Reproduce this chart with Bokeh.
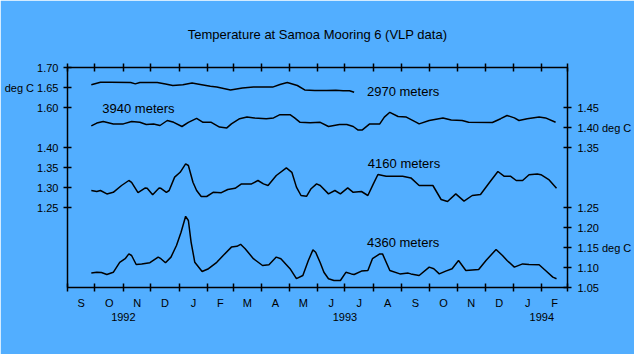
import numpy as np
from bokeh.plotting import figure
from bokeh.models import ColumnDataSource, LinearAxis, FixedTicker, Range1d, Label
from bokeh.embed import file_html
from bokeh.resources import INLINE

# ---------------- data ----------------
dates_2970 = ["1992-09-27", "1992-10-07", "1992-10-18", "1992-11-09", "1992-11-14", "1992-11-19",
              "1992-12-08", "1992-12-17", "1992-12-25", "1993-01-05", "1993-01-15", "1993-01-24",
              "1993-02-04", "1993-02-11", "1993-02-26", "1993-03-11", "1993-03-23", "1993-04-13",
              "1993-04-21", "1993-04-29", "1993-05-10", "1993-05-18", "1993-05-29", "1993-06-11",
              "1993-06-21", "1993-06-29", "1993-07-06", "1993-07-11"]
temp_2970 = [1.657, 1.663, 1.663, 1.6625, 1.659, 1.6625, 1.6625, 1.659, 1.655, 1.657, 1.661, 1.6575,
             1.653, 1.651, 1.644, 1.649, 1.651, 1.651, 1.6575, 1.6625, 1.655, 1.644, 1.6425, 1.6425,
             1.643, 1.642, 1.642, 1.638]

dates_3940 = ["1992-09-27", "1992-10-03", "1992-10-10", "1992-10-21", "1992-11-01", "1992-11-10",
              "1992-11-19", "1992-11-26", "1992-12-04", "1992-12-11", "1992-12-19", "1992-12-26",
              "1993-01-04", "1993-01-11", "1993-01-20", "1993-01-27", "1993-02-05", "1993-02-14",
              "1993-02-22", "1993-02-27", "1993-03-08", "1993-03-16", "1993-03-24", "1993-04-06",
              "1993-04-14", "1993-04-21", "1993-05-02", "1993-05-07", "1993-05-13", "1993-05-24",
              "1993-06-04", "1993-06-13", "1993-06-25", "1993-07-03", "1993-07-10", "1993-07-15",
              "1993-07-20", "1993-07-28", "1993-08-08", "1993-08-13", "1993-08-19", "1993-08-28",
              "1993-09-06", "1993-09-17", "1993-09-20", "1993-10-01", "1993-10-16", "1993-10-25",
              "1993-11-06", "1993-11-13", "1993-12-09", "1993-12-18", "1993-12-25", "1994-01-02",
              "1994-01-07", "1994-01-16", "1994-01-29", "1994-02-05", "1994-02-16"]
temp_3940 = [1.404, 1.411, 1.415, 1.409, 1.409, 1.415, 1.413, 1.4075, 1.409, 1.405, 1.4175, 1.413,
             1.4025, 1.413, 1.423, 1.413, 1.413, 1.401, 1.399, 1.409, 1.422, 1.426, 1.424, 1.422,
             1.424, 1.432, 1.432, 1.424, 1.413, 1.412, 1.413, 1.4025, 1.4075, 1.4075, 1.4025, 1.394,
             1.394, 1.409, 1.409, 1.426, 1.438, 1.4275, 1.426, 1.413, 1.409, 1.4175, 1.424, 1.419,
             1.4175, 1.413, 1.4125, 1.422, 1.43, 1.424, 1.4175, 1.422, 1.426, 1.424, 1.413]

dates_4160 = ["1992-09-27", "1992-10-03", "1992-10-07", "1992-10-14", "1992-10-21", "1992-10-30",
              "1992-11-07", "1992-11-10", "1992-11-17", "1992-11-25", "1992-11-27", "1992-12-03",
              "1992-12-10", "1992-12-12", "1992-12-18", "1992-12-21", "1992-12-27", "1993-01-02",
              "1993-01-08", "1993-01-11", "1993-01-16", "1993-01-20", "1993-01-25", "1993-01-31",
              "1993-02-07", "1993-02-16", "1993-02-23", "1993-03-03", "1993-03-10", "1993-03-21",
              "1993-03-28", "1993-04-03", "1993-04-08", "1993-04-17", "1993-04-28", "1993-05-04",
              "1993-05-09", "1993-05-14", "1993-05-20", "1993-05-25", "1993-05-31", "1993-06-04",
              "1993-06-13", "1993-06-20", "1993-06-26", "1993-07-04", "1993-07-10", "1993-07-19",
              "1993-07-26", "1993-08-01", "1993-08-06", "1993-08-15", "1993-09-02", "1993-09-11",
              "1993-09-20", "1993-10-05", "1993-10-14", "1993-10-21", "1993-10-30", "1993-11-08",
              "1993-11-17", "1993-11-26", "1993-12-06", "1993-12-15", "1993-12-22", "1993-12-29",
              "1994-01-04", "1994-01-11", "1994-01-18", "1994-01-27", "1994-01-31", "1994-02-09",
              "1994-02-17"]
temp_4160 = [1.2925, 1.29, 1.2925, 1.284, 1.288, 1.305, 1.3175, 1.313, 1.287, 1.299, 1.298, 1.282,
             1.299, 1.298, 1.288, 1.2925, 1.326, 1.338, 1.359, 1.355, 1.313, 1.2925, 1.2775, 1.2775,
             1.288, 1.287, 1.295, 1.298, 1.309, 1.309, 1.3175, 1.309, 1.305, 1.33, 1.349, 1.338,
             1.301, 1.28, 1.278, 1.297, 1.309, 1.305, 1.284, 1.2925, 1.284, 1.299, 1.288, 1.29,
             1.28, 1.309, 1.3325, 1.328, 1.328, 1.324, 1.305, 1.305, 1.27, 1.265, 1.284, 1.266,
             1.28, 1.2825, 1.313, 1.34, 1.328, 1.328, 1.3175, 1.3175, 1.332, 1.334, 1.332, 1.319,
             1.298]

dates_4360 = ["1992-09-27", "1992-10-03", "1992-10-08", "1992-10-14", "1992-10-21", "1992-10-28",
              "1992-11-03", "1992-11-07", "1992-11-10", "1992-11-15", "1992-11-21", "1992-11-30",
              "1992-12-09", "1992-12-12", "1992-12-17", "1992-12-23", "1992-12-29", "1993-01-03",
              "1993-01-08", "1993-01-11", "1993-01-14", "1993-01-18", "1993-01-26", "1993-02-02",
              "1993-02-11", "1993-02-18", "1993-02-27", "1993-03-05", "1993-03-09", "1993-03-14",
              "1993-03-23", "1993-04-02", "1993-04-09", "1993-04-17", "1993-04-22", "1993-05-02",
              "1993-05-09", "1993-05-16", "1993-05-22", "1993-05-27", "1993-05-30", "1993-06-04",
              "1993-06-08", "1993-06-13", "1993-06-19", "1993-06-26", "1993-07-02", "1993-07-08",
              "1993-07-11", "1993-07-19", "1993-07-26", "1993-07-31", "1993-08-08", "1993-08-11",
              "1993-08-19", "1993-08-30", "1993-09-08", "1993-09-11", "1993-09-20", "1993-10-01",
              "1993-10-06", "1993-10-12", "1993-10-19", "1993-10-26", "1993-11-02", "1993-11-10",
              "1993-11-24", "1993-12-02", "1993-12-13", "1993-12-20", "1993-12-25", "1994-01-02",
              "1994-01-11", "1994-01-18", "1994-01-29", "1994-02-05", "1994-02-13", "1994-02-17"]
temp_4360 = [1.086, 1.088, 1.0875, 1.0825, 1.088, 1.113, 1.122, 1.134, 1.13, 1.1075, 1.109, 1.112,
             1.126, 1.122, 1.112, 1.126, 1.155, 1.188, 1.228, 1.2175, 1.163, 1.113, 1.09, 1.097,
             1.113, 1.13, 1.151, 1.153, 1.158, 1.147, 1.122, 1.105, 1.107, 1.126, 1.122, 1.097,
             1.072, 1.08, 1.1175, 1.144, 1.138, 1.112, 1.088, 1.072, 1.0675, 1.0675, 1.088, 1.084,
             1.0825, 1.091, 1.0925, 1.122, 1.134, 1.134, 1.0925, 1.084, 1.086, 1.084, 1.08, 1.101,
             1.097, 1.084, 1.091, 1.097, 1.1175, 1.0925, 1.095, 1.1175, 1.145, 1.13, 1.1175, 1.101,
             1.109, 1.1075, 1.107, 1.0925, 1.076, 1.072]

month_starts = ["1992-09-01", "1992-10-01", "1992-11-01", "1992-12-01", "1993-01-01", "1993-02-01",
                "1993-03-01", "1993-04-01", "1993-05-01", "1993-06-01", "1993-07-01", "1993-08-01",
                "1993-09-01", "1993-10-01", "1993-11-01", "1993-12-01", "1994-01-01", "1994-02-01",
                "1994-03-01"]
month_letters = ["S", "O", "N", "D", "J", "F", "M", "A", "M", "J", "J", "A", "S", "O", "N", "D", "J", "F"]
year_dates = ["1992-11-01", "1993-07-01", "1994-02-01"]
year_labels = ["1992", "1993", "1994"]

ticks_2970 = [1.60, 1.65, 1.70]          # left, upper block
ticks_4160 = [1.25, 1.30, 1.35, 1.40]    # left, lower block
ticks_3940 = [1.35, 1.40, 1.45]          # right, upper block
ticks_4360 = [1.05, 1.10, 1.15, 1.20, 1.25]  # right, lower block

title_text = "Temperature at Samoa Mooring 6 (VLP data)"

# display offsets of the broken axes (shared plotting scale = 4160/4360 scale)
OFF_2970 = -0.10
OFF_3940 = 0.05


def ms(lst):
    return np.array(lst, dtype="datetime64[ms]").astype("int64")


BG = "#52AEFF"
FONT = "Liberation Sans"

x0 = int(ms(["1992-09-01"])[0])
x1 = int(ms(["1994-03-01"])[0])
p = figure(width=634, height=354, output_backend="svg", toolbar_location=None,
           x_axis_type=None, y_axis_type=None,
           x_range=Range1d(x0, x1),
           y_range=Range1d(1.05, 1.60),
           min_border_left=67, min_border_right=67, min_border_top=67, min_border_bottom=67)
p.background_fill_color = BG
p.border_fill_color = BG
p.outline_line_color = None
p.grid.visible = False

series = [(dates_2970, temp_2970, OFF_2970), (dates_3940, temp_3940, OFF_3940),
          (dates_4160, temp_4160, 0.0), (dates_4360, temp_4360, 0.0)]
for dts, tmp, off in series:
    src = ColumnDataSource(dict(x=ms(dts), y=np.array(tmp) + off))
    p.line("x", "y", source=src, line_color="black", line_width=1.5)


def style_axis(ax):
    ax.axis_line_color = "black"
    ax.axis_line_width = 1.5
    ax.major_tick_line_color = "black"
    ax.major_tick_line_width = 1.5
    ax.minor_tick_line_color = "black"
    ax.minor_tick_line_width = 1.5
    ax.major_tick_in = 4
    ax.major_tick_out = 4
    ax.major_label_text_font = FONT
    ax.major_label_text_font_size = "11px"
    ax.major_label_text_color = "black"


# left axis
lt, lo = [], {}
for v in ticks_2970:
    pos = round(v + OFF_2970, 4)
    lt.append(pos)
    lo[pos] = ("deg C " if abs(v - 1.65) < 1e-9 else "") + f"{v:.2f}"
for v in ticks_4160:
    pos = round(v, 4)
    lt.append(pos)
    lo[pos] = f"{v:.2f}"
left = LinearAxis(ticker=FixedTicker(ticks=lt, minor_ticks=[]), major_label_overrides=lo)
style_axis(left)
left.major_label_standoff = 5
p.add_layout(left, "left")

# right axis
rt, ro = [], {}
for v in ticks_3940:
    pos = round(v + OFF_3940, 4)
    rt.append(pos)
    ro[pos] = f"{v:.2f}" + (" deg C" if abs(v - 1.40) < 1e-9 else "")
for v in ticks_4360:
    pos = round(v, 4)
    rt.append(pos)
    ro[pos] = f"{v:.2f}" + (" deg C" if abs(v - 1.15) < 1e-9 else "")
right = LinearAxis(ticker=FixedTicker(ticks=rt, minor_ticks=[]), major_label_overrides=ro)
style_axis(right)
right.major_label_standoff = 6
p.add_layout(right, "right")

# bottom axis: boundary ticks (minor) + month letters at mid-month (major)
bounds = ms(month_starts)
mids = [int((bounds[i] + bounds[i + 1]) // 2) for i in range(len(bounds) - 1)]
mo = {m: lab for m, lab in zip(mids, month_letters)}
bottom = LinearAxis(ticker=FixedTicker(ticks=mids, minor_ticks=[int(b) for b in bounds]),
                    major_label_overrides=mo)
style_axis(bottom)
bottom.major_tick_line_color = None
bottom.minor_tick_in = 4
bottom.minor_tick_out = 4
bottom.major_label_standoff = 5
p.add_layout(bottom, "below")

# year row
yd = [int(v) for v in ms(year_dates)]
years = LinearAxis(ticker=FixedTicker(ticks=yd, minor_ticks=[]),
                   major_label_overrides={d: l for d, l in zip(yd, year_labels)})
style_axis(years)
years.axis_line_color = None
years.major_tick_line_color = None
years.major_tick_in = 0
years.major_tick_out = 0
years.major_label_standoff = 1
p.add_layout(years, "below")

# top axis with month boundary ticks only
top = LinearAxis(ticker=FixedTicker(ticks=[], minor_ticks=[int(b) for b in bounds]))
style_axis(top)
top.minor_tick_in = 4
top.minor_tick_out = 4
p.add_layout(top, "above")

# title
p.title.text = title_text
p.title.align = "center"
p.title.text_font = FONT
p.title.text_font_size = "13px"
p.title.text_font_style = "normal"
p.title.text_color = "black"
p.title.standoff = 43

# left middle "deg C"
p.add_layout(Label(x=int(ms(["1992-07-26"])[0]), y=1.325, text="deg C", text_align="right",
                   text_baseline="middle", text_font=FONT, text_font_size="11px",
                   text_color="black"))

# series labels
for txt, d, yv in [("2970 meters", "1993-07-25", 1.54),
                   ("3940 meters", "1992-10-09", 1.4975),
                   ("4160 meters", "1993-07-26", 1.36),
                   ("4360 meters", "1993-07-25", 1.1625)]:
    p.add_layout(Label(x=int(ms([d])[0]), y=yv, text=txt, text_align="left",
                       text_baseline="middle", text_font=FONT, text_font_size="13px",
                       text_color="black"))

open("out.html", "w").write(file_html(p, INLINE))
